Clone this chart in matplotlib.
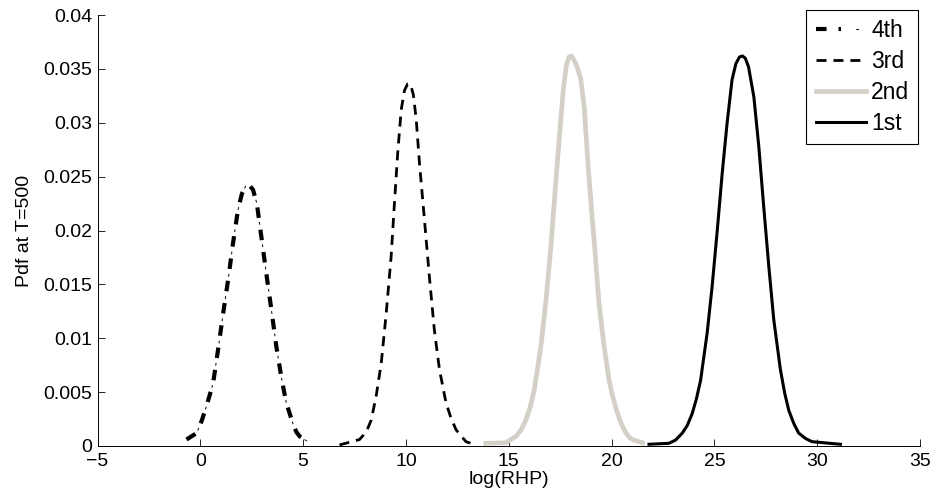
import matplotlib
matplotlib.use("Agg")
import matplotlib.pyplot as plt
from matplotlib.legend_handler import HandlerTuple

plt.rcParams['font.family'] = ['Liberation Sans', 'DejaVu Sans']
plt.rcParams['lines.scale_dashes'] = False

# curves: log(RHP) vs pdf
x_4th = [-0.67, -0.18, 0.06, 0.30, 0.62, 0.86, 1.11, 1.35, 1.59, 1.83, 2.02, 2.20, 2.38, 2.56,
         2.75, 2.97, 3.21, 3.46, 3.70, 3.94, 4.18, 4.50, 4.67, 4.83, 5.23]
y_4th = [0.0006, 0.0012, 0.0023, 0.0037, 0.0058, 0.0089, 0.0123, 0.0154, 0.0188, 0.0219, 0.0234,
         0.0241, 0.0242, 0.0238, 0.0225, 0.0194, 0.0160, 0.0126, 0.0092, 0.0064, 0.0040,
         0.0021, 0.0013, 0.0009, 0.0004]

x_3rd = [6.77, 7.74, 8.07, 8.31, 8.55, 8.80, 9.04, 9.28, 9.44, 9.60, 9.77, 9.93, 10.08, 10.22,
         10.36, 10.50, 10.66, 10.90, 11.14, 11.38, 11.63, 11.95, 12.19, 12.44, 12.92, 13.41]
y_3rd = [0.0001, 0.0006, 0.0013, 0.0024, 0.0046, 0.0077, 0.0123, 0.0176, 0.0225, 0.0272, 0.0312,
         0.0330, 0.0336, 0.0336, 0.0326, 0.0303, 0.0262, 0.0210, 0.0157, 0.0108, 0.0071,
         0.0040, 0.0026, 0.0015, 0.0004, 0.0001]

x_2nd = [13.89, 14.86, 15.35, 15.60, 15.83, 16.04, 16.24, 16.56, 16.81, 17.05, 17.26, 17.45,
         17.65, 17.80, 17.93, 18.05, 18.18, 18.32, 18.50, 18.67, 18.83, 18.99, 19.20, 19.39,
         19.64, 19.88, 20.04, 20.20, 20.40, 20.61, 20.82, 21.01, 21.50]
y_2nd = [0.00025, 0.0003, 0.0009, 0.0015, 0.0024, 0.0036, 0.0052, 0.0092, 0.0135, 0.0185,
         0.0238, 0.0284, 0.0330, 0.0353, 0.0361, 0.0362, 0.0358, 0.0352, 0.0341, 0.0315,
         0.0268, 0.0228, 0.0179, 0.0132, 0.0092, 0.0061, 0.0047, 0.0036, 0.0024, 0.0015,
         0.0009, 0.0006, 0.0003]

x_1st = [21.82, 22.79, 23.12, 23.44, 23.68, 23.92, 24.13, 24.33, 24.65, 24.89, 25.14, 25.38,
         25.62, 25.86, 26.05, 26.22, 26.36, 26.50, 26.66, 26.92, 27.16, 27.40, 27.65, 27.89,
         28.21, 28.42, 28.62, 28.86, 29.10, 29.43, 29.75, 31.13]
y_1st = [0.00016, 0.00025, 0.00056, 0.0012, 0.0019, 0.0030, 0.0044, 0.0061, 0.0105, 0.0148,
         0.0200, 0.0253, 0.0300, 0.0340, 0.0355, 0.0361, 0.0362, 0.0360, 0.0352, 0.0324,
         0.0278, 0.0222, 0.0166, 0.0117, 0.0071, 0.0049, 0.0033, 0.0021, 0.0012, 0.0007,
         0.0004, 0.00016]

labels = ['4th', '3rd', '2nd', '1st']

fig = plt.figure(figsize=(9.38, 5.01), dpi=100)
ax = fig.add_axes([97.5 / 938, 55 / 501, (920 - 97.5) / 938, 431 / 501])

# dash-dot drawn as thick dashes + thin dots, like the matlab export
h4a, = ax.plot(x_4th, y_4th, color='k', lw=3.0, linestyle=(0, (7.6, 8.6)),
               dash_joinstyle='round')
h4b, = ax.plot(x_4th, y_4th, color='k', lw=0.7, linestyle=(5.6, (2.0, 14.2)))
h3, = ax.plot(x_3rd, y_3rd, color='k', lw=2.0, linestyle=(0, (7.2, 5.0)),
              dash_joinstyle='round')
h2, = ax.plot(x_2nd, y_2nd, color='#d4d0c8', lw=3.4, solid_joinstyle='round')
h1, = ax.plot(x_1st, y_1st, color='k', lw=2.2, solid_joinstyle='round')

ax.set_xlim(-5, 35)
ax.set_ylim(0, 0.04)
ax.set_xticks(range(-5, 36, 5))
ax.set_yticks([0, 0.005, 0.01, 0.015, 0.02, 0.025, 0.03, 0.035, 0.04])
ax.set_yticklabels(['0', '0.005', '0.01', '0.015', '0.02', '0.025', '0.03', '0.035', '0.04'])
ax.set_xticklabels([str(v).replace('-', '\u2212') for v in range(-5, 36, 5)])
ax.tick_params(direction='in', length=5, width=0.6, labelsize=14)
ax.tick_params(axis='x', pad=5)
ax.tick_params(axis='y', pad=4)
ax.spines['top'].set_visible(False)
ax.spines['right'].set_visible(False)
ax.spines['left'].set_linewidth(0.7)
ax.spines['bottom'].set_linewidth(0.7)
ax.set_xlabel('log(RHP)', fontsize=14, labelpad=1)
ax.set_ylabel('Pdf at T=500', fontsize=14, labelpad=7)

leg = ax.legend([(h4a, h4b), h3, h2, h1], labels, loc='upper right',
                bbox_to_anchor=(0.998, 1.012), borderaxespad=0, fontsize=16.5,
                handlelength=2.2, handletextpad=0.22, labelspacing=0.345,
                borderpad=0.4, fancybox=False, framealpha=1,
                handler_map={tuple: HandlerTuple(ndivide=None, pad=0)})
leg.get_frame().set_edgecolor('k')
leg.get_frame().set_linewidth(0.8)

fig.savefig('out.png', dpi=100)
